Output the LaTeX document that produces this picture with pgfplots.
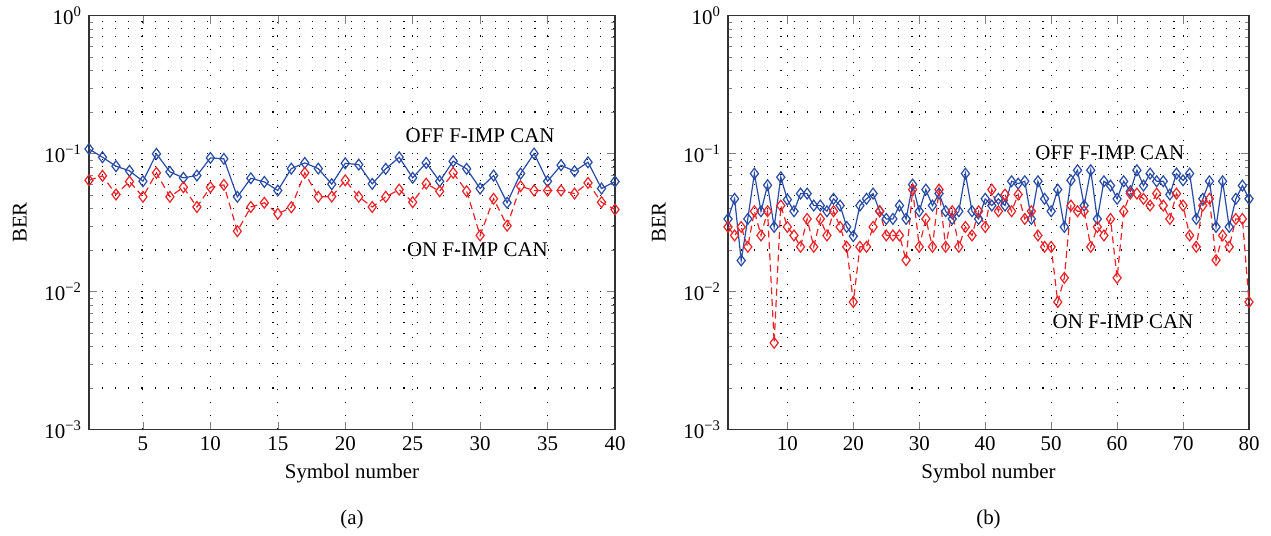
\documentclass[border=0pt]{standalone}
\usepackage{pgfplots}
\pgfplotsset{compat=1.18}
\usepackage{fontspec}
\setmainfont{Liberation Serif}
\definecolor{cblue}{RGB}{40,75,165}
\definecolor{cred}{RGB}{235,35,40}
\tikzset{
  offline/.style={cblue, line width=0.6bp, mark=diamond, mark size=2.7bp, mark options={solid, fill=none, line width=0.6bp}},
  online/.style={cred, line width=0.6bp, dash pattern=on 3.5bp off 2.2bp, mark=diamond, mark size=2.7bp, mark options={solid, fill=none, line width=0.6bp}},
  gridd/.style={black, line width=0.55bp, dash pattern=on 0.55bp off 6bp},
}
\begin{document}
\begin{tikzpicture}[font=\fontsize{10.5}{12.5}\selectfont]
\begin{axis}[name=A, scale only axis, width=263bp, height=207bp, xmin=1, xmax=40, xtick={5,10,...,40},
    ymode=log, ymin=1e-3, ymax=1,
    ytick={1e-3,1e-2,1e-1,1},
    yticklabels={10\textsuperscript{−3},10\textsuperscript{−2},10\textsuperscript{−1},10\textsuperscript{0}},
    /pgf/number format/assume math mode=true,
    tick align=inside, tick pos=both,
    major tick length=4bp, minor tick length=2bp,
    grid=both, major grid style={gridd}, minor grid style={gridd},
    minor x tick num=0,
    axis line style={line width=0.7bp, black!80},
    xlabel={Symbol number}, ylabel={BER}, ylabel style={yshift=2bp},
    clip=false]
\addplot[offline] coordinates {
(1,0.108)(2,0.094)(3,0.081)(4,0.075)(5,0.063)(6,0.0995)(7,0.0737)(8,0.0667)(9,0.0693)(10,0.093)
(11,0.0916)(12,0.0486)(13,0.0662)(14,0.0623)(15,0.054)(16,0.0778)(17,0.0856)(18,0.0778)(19,0.060)(20,0.085)
(21,0.0832)(22,0.0603)(23,0.0775)(24,0.094)(25,0.0667)(26,0.0856)(27,0.063)(28,0.088)(29,0.0775)(30,0.0558)
(31,0.0693)(32,0.044)(33,0.0716)(34,0.100)(35,0.063)(36,0.0823)(37,0.0745)(38,0.0865)(39,0.0558)(40,0.0627)};
\addplot[online] coordinates {
(1,0.064)(2,0.069)(3,0.0505)(4,0.0627)(5,0.0486)(6,0.0725)(7,0.0486)(8,0.057)(9,0.041)(10,0.057)
(11,0.0593)(12,0.0274)(13,0.041)(14,0.044)(15,0.0366)(16,0.0408)(17,0.0725)(18,0.0486)(19,0.0488)(20,0.064)
(21,0.0486)(22,0.041)(23,0.0486)(24,0.0548)(25,0.0444)(26,0.0606)(27,0.0533)(28,0.0725)(29,0.0533)(30,0.0255)
(31,0.047)(32,0.030)(33,0.058)(34,0.054)(35,0.054)(36,0.054)(37,0.0513)(38,0.0613)(39,0.0444)(40,0.0393)};
\node at (axis cs:30,0.135) {OFF F-IMP CAN};
\node at (axis cs:29.8,0.0201) {ON F-IMP CAN};
\node at ([yshift=-45bp]rel axis cs:0.5,0) {(a)};
\end{axis}
\begin{axis}[name=B, at={(319.5bp,0)}, scale only axis, width=260.5bp, height=207bp, xmin=1, xmax=80, xtick={10,20,...,80},
    ymode=log, ymin=1e-3, ymax=1,
    ytick={1e-3,1e-2,1e-1,1},
    yticklabels={10\textsuperscript{−3},10\textsuperscript{−2},10\textsuperscript{−1},10\textsuperscript{0}},
    /pgf/number format/assume math mode=true,
    tick align=inside, tick pos=both,
    major tick length=4bp, minor tick length=2bp,
    grid=both, major grid style={gridd}, minor grid style={gridd},
    minor x tick num=0,
    axis line style={line width=0.7bp, black!80},
    xlabel={Symbol number}, ylabel={BER}, ylabel style={yshift=2bp},
    clip=false]
\addplot[offline] coordinates {
(1,0.0336)(2,0.047)(3,0.0168)(4,0.0336)(5,0.0716)(6,0.0382)(7,0.059)(8,0.0294)(9,0.0674)(10,0.0464)
(11,0.0382)(12,0.0513)(13,0.0513)(14,0.042)(15,0.042)(16,0.0382)(17,0.047)(18,0.042)(19,0.0294)(20,0.0252)
(21,0.042)(22,0.047)(23,0.0513)(24,0.0382)(25,0.0336)(26,0.0336)(27,0.042)(28,0.0336)(29,0.0596)(30,0.0382)
(31,0.0548)(32,0.042)(33,0.0513)(34,0.0382)(35,0.0336)(36,0.0382)(37,0.0716)(38,0.0382)(39,0.0336)(40,0.047)
(41,0.042)(42,0.047)(43,0.042)(44,0.063)(45,0.0606)(46,0.063)(47,0.0336)(48,0.063)(49,0.047)(50,0.0382)
(51,0.0548)(52,0.0294)(53,0.064)(54,0.0757)(55,0.042)(56,0.0757)(57,0.0336)(58,0.063)(59,0.0586)(60,0.047)
(61,0.063)(62,0.0533)(63,0.0757)(64,0.0586)(65,0.0716)(66,0.063)(67,0.063)(68,0.0505)(69,0.0716)(70,0.064)
(71,0.0716)(72,0.0336)(73,0.047)(74,0.063)(75,0.0294)(76,0.063)(77,0.0294)(78,0.047)(79,0.0586)(80,0.047)};
\addplot[online] coordinates {
(1,0.0294)(2,0.0255)(3,0.0294)(4,0.0211)(5,0.0382)(6,0.0255)(7,0.0382)(8,0.00425)(9,0.042)(10,0.0294)
(11,0.0255)(12,0.0211)(13,0.0336)(14,0.0211)(15,0.0336)(16,0.0255)(17,0.0382)(18,0.0294)(19,0.0211)(20,0.0084)
(21,0.0211)(22,0.0211)(23,0.0294)(24,0.0382)(25,0.0255)(26,0.0255)(27,0.0255)(28,0.0169)(29,0.0548)(30,0.0211)
(31,0.0336)(32,0.0211)(33,0.0548)(34,0.0211)(35,0.0382)(36,0.0211)(37,0.0294)(38,0.0255)(39,0.0382)(40,0.0294)
(41,0.0548)(42,0.0382)(43,0.0505)(44,0.0382)(45,0.0505)(46,0.0336)(47,0.0382)(48,0.0255)(49,0.0211)(50,0.0211)
(51,0.0084)(52,0.01257)(53,0.042)(54,0.0382)(55,0.0382)(56,0.0211)(57,0.0294)(58,0.0255)(59,0.0336)(60,0.01257)
(61,0.0382)(62,0.0513)(63,0.0513)(64,0.047)(65,0.042)(66,0.0513)(67,0.042)(68,0.0336)(69,0.0513)(70,0.042)
(71,0.0255)(72,0.0211)(73,0.042)(74,0.047)(75,0.0169)(76,0.0255)(77,0.0211)(78,0.0336)(79,0.0336)(80,0.0084)};
\node at (axis cs:58.9,0.1016) {OFF F-IMP CAN};
\node at (axis cs:60.9,0.00606) {ON F-IMP CAN};
\node at ([yshift=-45bp]rel axis cs:0.5,0) {(b)};
\end{axis}
\path (B.south east) ++(11bp,0);
\path (A.south west) ++(-44.5bp,0);
\end{tikzpicture}
\end{document}
